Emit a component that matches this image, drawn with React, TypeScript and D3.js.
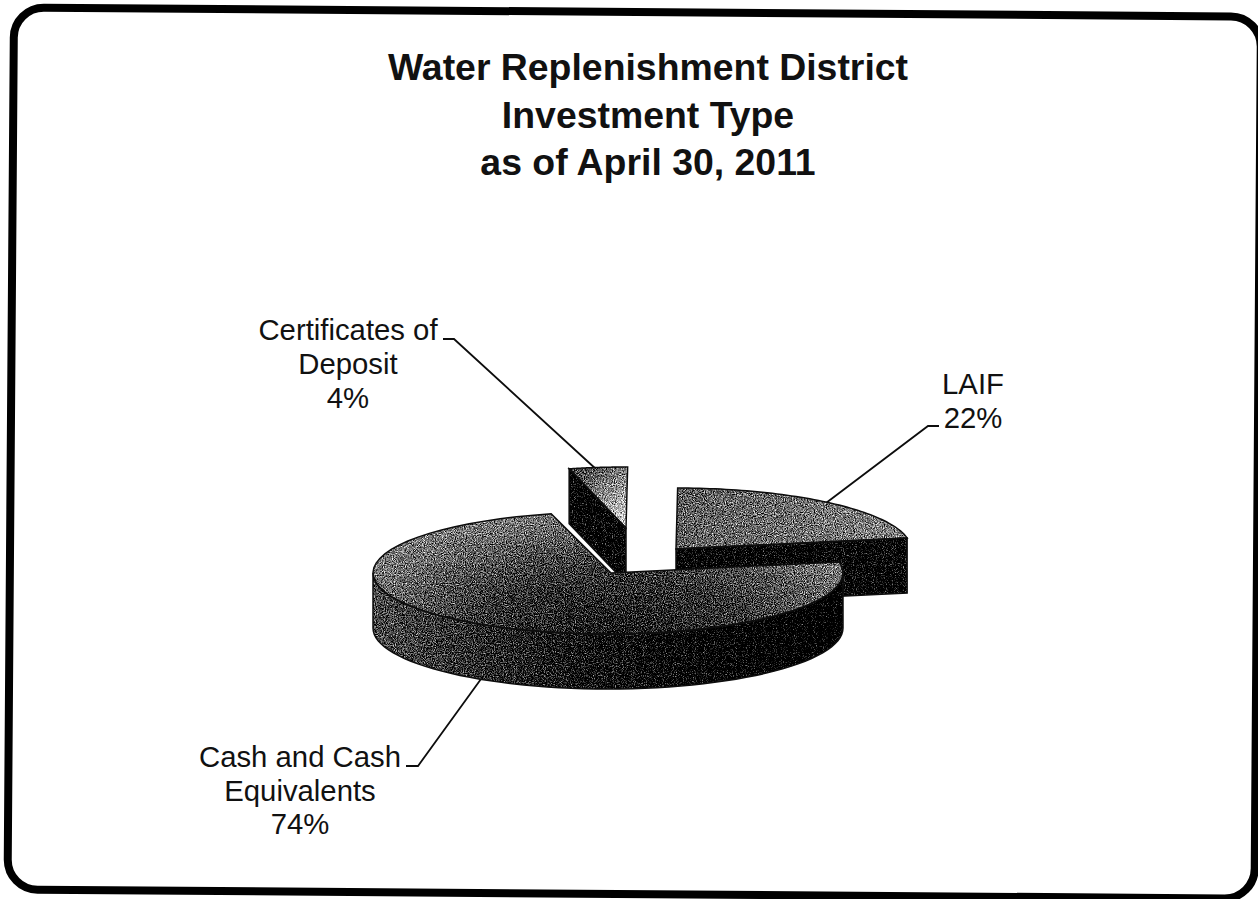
import React from "react";
import * as d3 from "d3";

// Investment shares, in percent
const categories = ["Certificates of Deposit", "LAIF", "Cash and Cash Equivalents"];
const shares = [4, 22, 74];

const titleLines = ["Water Replenishment District", "Investment Type", "as of April 30, 2011"];
const certificateLabel = ["Certificates of", "Deposit", "4%"];
const laifLabel = ["LAIF", "22%"];
const cashLabel = ["Cash and Cash", "Equivalents", "74%"];

// Pie projection
const WIDTH = 1258;
const HEIGHT = 899;
const RX = 235;
const RY = 61;
const DEPTH = 55;
const FIRST_ANGLE = (-14 * Math.PI) / 180;

// Each wedge sits at its own exploded centre
const centres = [
  { x: 626, y: 528, apexDx: 0 },
  { x: 676, y: 549, apexDx: 0 },
  { x: 608, y: 573, apexDx: 3 },
];

const slices = d3
  .pie<number>()
  .sort(null)
  .startAngle(FIRST_ANGLE)
  .endAngle(FIRST_ANGLE + 2 * Math.PI)(shares);

const px = d3.scaleLinear().domain([-1, 1]).range([-RX, RX]);
const py = d3.scaleLinear().domain([-1, 1]).range([RY, -RY]);

const rimPoint = (c: { x: number; y: number }, a: number, drop = 0): [number, number] => [
  c.x + px(Math.sin(a)),
  c.y + py(Math.cos(a)) + drop,
];

const line = d3.line();

const arcPoints = (c: { x: number; y: number }, a0: number, a1: number, drop = 0) =>
  d3.range(0, 61).map((i) => rimPoint(c, a0 + ((a1 - a0) * i) / 60, drop));

const apex = (c: { x: number; y: number; apexDx: number }): [number, number] => [c.x + c.apexDx, c.y];

const topFace = (i: number) => {
  const c = centres[i];
  return line([apex(c), ...arcPoints(c, slices[i].startAngle, slices[i].endAngle)]) + "Z";
};

// Outer wall, only the part that faces the viewer
const wall = (i: number) => {
  const c = centres[i];
  const a0 = Math.max(slices[i].startAngle, Math.PI / 2);
  const a1 = Math.min(slices[i].endAngle, (3 * Math.PI) / 2);
  if (a1 <= a0) return null;
  return line([...arcPoints(c, a0, a1), ...arcPoints(c, a1, a0, DEPTH)]) + "Z";
};

// Flat cut face running from the rim in to the centre
const cutFace = (i: number, a: number) => {
  const c = centres[i];
  const rim = rimPoint(c, a);
  const ap = apex(c);
  return line([rim, ap, [ap[0], ap[1] + DEPTH], [rim[0], rim[1] + DEPTH]]) + "Z";
};

const inkLine = "#0d0d0d";

const leaders: [number, number][][] = [
  [[443, 339], [454, 339], [597, 470]],
  [[826, 503], [928, 426], [939, 426]],
  [[481, 679], [418, 766], [406, 766]],
];

const Block = ({ lines, x, y, step }: { lines: string[]; x: number; y: number; step: number }) => (
  <text textAnchor="middle" fontFamily="Liberation Sans" fontSize={29.3} fill="#111">
    {lines.map((l, i) => (
      <tspan key={l} x={x} y={y + i * step}>
        {l}
      </tspan>
    ))}
  </text>
);

export default function App() {
  const [cd, laif] = slices;
  return (
    <svg
      width={WIDTH}
      height={HEIGHT}
      viewBox={`0 0 ${WIDTH} ${HEIGHT}`}
      style={{ position: "absolute", left: 0, top: 0, background: "#fff" }}
    >
      <defs>
        {/* Halftone grain laid over the grey fills */}
        <filter
          id="halftone"
          filterUnits="userSpaceOnUse"
          x="0"
          y="0"
          width={WIDTH}
          height={HEIGHT}
          colorInterpolationFilters="sRGB"
        >
          <feTurbulence type="fractalNoise" baseFrequency="0.9" numOctaves="2" seed="4" result="n" />
          <feColorMatrix
            in="n"
            type="matrix"
            values="1 0 0 0 0  1 0 0 0 0  1 0 0 0 0  0 0 0 0 1"
            result="grey"
          />
          <feComposite in="SourceGraphic" in2="grey" operator="arithmetic" k1="0" k2="1" k3="1" k4="-0.5" result="mix" />
          <feComponentTransfer in="mix" result="hard">
            <feFuncR type="linear" slope="1.8" intercept="-0.4" />
            <feFuncG type="linear" slope="1.8" intercept="-0.4" />
            <feFuncB type="linear" slope="1.8" intercept="-0.4" />
          </feComponentTransfer>
          <feComposite in="hard" in2="SourceAlpha" operator="in" />
        </filter>

        <radialGradient
          id="cashTop"
          gradientUnits="userSpaceOnUse"
          cx="0"
          cy="0"
          r="1"
          gradientTransform="translate(610 630) scale(270 120)"
        >
          <stop offset="0" stopColor="#424242" />
          <stop offset="0.5" stopColor="#565656" />
          <stop offset="1" stopColor="#7c7c7c" />
        </radialGradient>
        <linearGradient id="cashWall" gradientUnits="userSpaceOnUse" x1="372" y1="0" x2="843" y2="0">
          <stop offset="0" stopColor="#626262" />
          <stop offset="0.45" stopColor="#3e3e3e" />
          <stop offset="1" stopColor="#222" />
        </linearGradient>
        <linearGradient id="laifTop" gradientUnits="userSpaceOnUse" x1="680" y1="490" x2="900" y2="545">
          <stop offset="0" stopColor="#6c6c6c" />
          <stop offset="1" stopColor="#808080" />
        </linearGradient>
        <linearGradient id="cdTop" gradientUnits="userSpaceOnUse" x1="585" y1="470" x2="632" y2="525">
          <stop offset="0" stopColor="#606060" />
          <stop offset="1" stopColor="#b8b8b8" />
        </linearGradient>
      </defs>

      <rect
        x={14}
        y={7.5}
        width={1247}
        height={882}
        rx={30}
        ry={30}
        fill="none"
        stroke="#000"
        strokeWidth={8}
        transform="rotate(0.42 14 7.5)"
      />

      <g fontFamily="Liberation Sans" fontWeight="bold" fontSize={37.4} fill="#111" textAnchor="middle">
        {titleLines.map((t, i) => (
          <text key={t} x={648} y={80 + i * 47.5}>
            {t}
          </text>
        ))}
      </g>

      {leaders.map((pts, i) => (
        <path key={categories[i]} d={line(pts) ?? ""} fill="none" stroke={inkLine} strokeWidth={1.8} />
      ))}

      {/* Certificates of Deposit wedge */}
      <g stroke="none" filter="url(#halftone)">
        <path d={cutFace(0, cd.startAngle)} fill="#2e2e2e" />
        <path d={topFace(0)} fill="url(#cdTop)" />
      </g>
      <g fill="none" stroke={inkLine} strokeWidth={1.5}>
        <path d={cutFace(0, cd.startAngle)} />
        <path d={topFace(0)} />
      </g>

      {/* LAIF wedge */}
      <g stroke="none" filter="url(#halftone)">
        <path d={cutFace(1, laif.endAngle)} fill="#303030" />
        <path d={topFace(1)} fill="url(#laifTop)" />
      </g>
      <g fill="none" stroke={inkLine} strokeWidth={1.5}>
        <path d={cutFace(1, laif.endAngle)} />
        <path d={topFace(1)} />
      </g>

      {/* Cash and Cash Equivalents wedge */}
      <g stroke="none" filter="url(#halftone)">
        <path d={wall(2) ?? ""} fill="url(#cashWall)" />
        <path d={topFace(2)} fill="url(#cashTop)" />
      </g>
      <g fill="none" stroke={inkLine} strokeWidth={1.5}>
        <path d={wall(2) ?? ""} />
        <path d={topFace(2)} />
      </g>

      <Block lines={certificateLabel} x={348} y={340} step={34} />
      <Block lines={laifLabel} x={973} y={394} step={34} />
      <Block lines={cashLabel} x={300} y={767} step={33.5} />
    </svg>
  );
}
